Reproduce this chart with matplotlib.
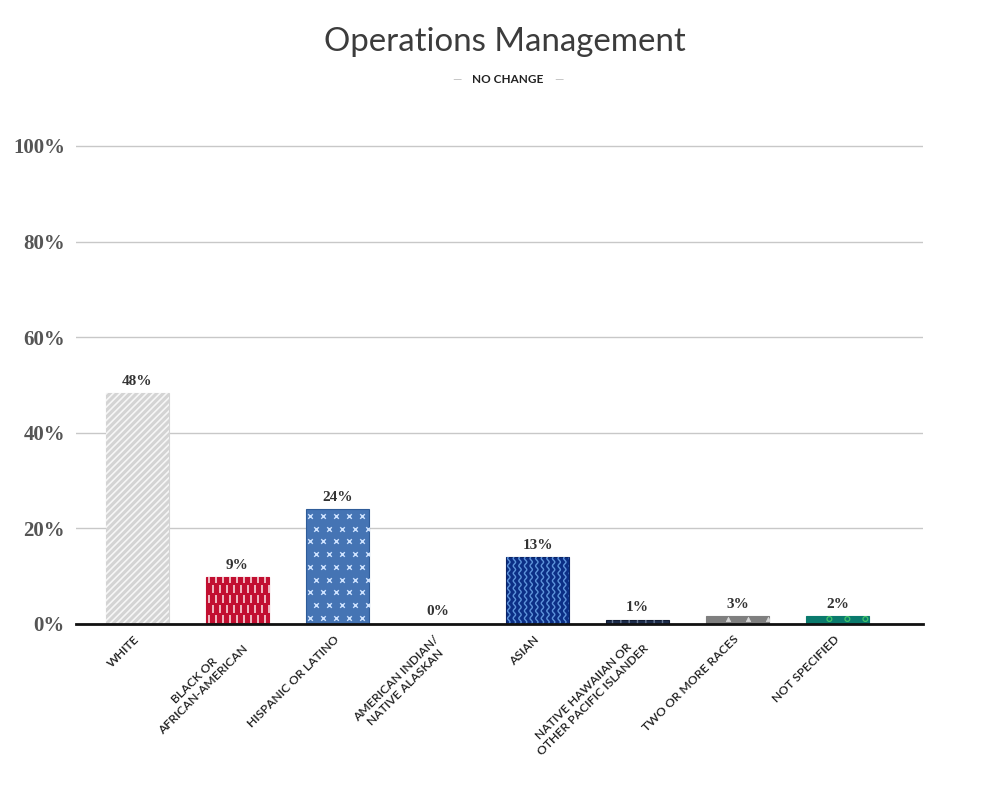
import matplotlib
matplotlib.use("Agg")
import matplotlib.pyplot as plt
from matplotlib.transforms import ScaledTranslation
import numpy as np

categories = ["WHITE", "BLACK OR\nAFRICAN-AMERICAN", "HISPANIC OR LATINO",
              "AMERICAN INDIAN/\nNATIVE ALASKAN", "ASIAN",
              "NATIVE HAWAIIAN OR\nOTHER PACIFIC ISLANDER", "TWO OR MORE RACES",
              "NOT SPECIFIED"]
values = [48.3, 9.8, 24.0, 0.0, 14.0, 0.9, 1.6, 1.6]
value_labels = ["48%", "9%", "24%", "0%", "13%", "1%", "3%", "2%"]
yticks = [0, 20, 40, 60, 80, 100]
ytick_labels = ["0%", "20%", "40%", "60%", "80%", "100%"]

face_colors = ["#d4d4d4", "#c20f31", "#4574b4", "#ffffff", "#0c2f86", "#1c2c4c", "#7f7f7f", "#0a7a6d"]
edge_colors = ["#d4d4d4", "#c20f31", "#2f5c99", "#ffffff", "#0a2466", "#111a30", "#7f7f7f", "#0a7a6d"]

fig = plt.figure(figsize=(10, 7.95), dpi=100)
ax = fig.add_axes([0.076, 0.2151, 0.847, 0.6133])
x = np.arange(len(categories))
bars = ax.bar(x, values, width=0.63, color=face_colors, edgecolor=edge_colors, linewidth=0.8, zorder=3)
ax.set_xlim(-0.615, 7.855)
ax.set_ylim(0, 102)

def hatch_overlay(bar, hatch, color, lw=1.0):
    plt.rcParams['hatch.linewidth'] = lw
    p = ax.bar(bar.get_x() + bar.get_width() / 2, bar.get_height(), width=bar.get_width(),
               color="none", edgecolor=color, hatch=hatch, linewidth=0, zorder=4)
    return p

hatch_overlay(bars[0], "/////", "#f6f6f6", 1.2)
hatch_overlay(bars[5], "||", "#6a7a96", 1.0)

fig.canvas.draw()

def stamp(bar, marker, color, dx, dy, size, lw, stagger=True, filled=True, x0off=0.5, y0=None):
    bb = bar.get_window_extent()
    if bb.height < 1:
        return
    pts = []
    yy = bb.y0 + (dy / 2 if y0 is None else y0)
    row = 0
    while yy < bb.y1:
        off = (dx / 2) if (stagger and row % 2 == 1) else 0
        xx = bb.x0 + dx * x0off + off
        while xx < bb.x1:
            pts.append((xx, yy))
            xx += dx
        yy += dy
        row += 1
    if not pts:
        return
    data = ax.transData.inverted().transform(np.array(pts))
    if filled:
        coll = ax.scatter(data[:, 0], data[:, 1], marker=marker, s=size, c=color,
                          linewidths=lw, zorder=5)
    else:
        coll = ax.scatter(data[:, 0], data[:, 1], marker=marker, s=size, facecolors="none",
                          edgecolors=color, linewidths=lw, zorder=5)
    coll.set_clip_path(bar)

def waves(bar, color, spacing, amp, period, lw):
    bb = bar.get_window_extent()
    if bb.height < 1:
        return
    ys = np.linspace(bb.y0, bb.y1, 400)
    xc = bb.x0 + spacing / 2
    while xc < bb.x1 + spacing:
        xs = xc + amp * np.sin(2 * np.pi * (ys - bb.y0) / period)
        d = ax.transData.inverted().transform(np.column_stack([xs, ys]))
        ln, = ax.plot(d[:, 0], d[:, 1], color=color, linewidth=lw, zorder=5)
        ln.set_clip_path(bar)
        xc += spacing

stamp(bars[1], "|", "#f3c6cd", 7.0, 10, 26, 1.3, stagger=True, x0off=0.45)
stamp(bars[2], "x", "#cfe3ff", 13, 12.7, 11, 1.0, stagger=True, x0off=0.3)
waves(bars[4], "#5d93da", 5.6, 1.2, 7.5, 1.0)
stamp(bars[6], "^", "#d9d9d9", 20, 10, 10, 0.5, stagger=False, x0off=1.1)
stamp(bars[7], "o", "#43c46a", 18, 10, 12, 0.9, stagger=False, filled=False, x0off=1.3)

serif = ["Liberation Serif", "DejaVu Serif"]
sans = ["Lato", "DejaVu Sans"]

ax.set_yticks(yticks)
ax.set_yticklabels(ytick_labels, fontfamily=serif, fontweight="bold", fontsize=15, color="#555555")
ax.tick_params(axis="y", length=0, pad=8)
ax.yaxis.grid(True, color="#c8c8c8", linewidth=1.0, zorder=0)
ax.set_axisbelow(True)

ax.set_xticks(x)
ax.set_xticklabels(categories, rotation=45, ha="right", va="top", rotation_mode="anchor",
                   fontfamily=sans, fontweight="semibold", fontsize=8.8, color="#222222",
                   multialignment="center")
ax.tick_params(axis="x", length=0, pad=7)
shift = ScaledTranslation(-4 / 100, 0, fig.dpi_scale_trans)
for lab in ax.get_xticklabels():
    lab.set_transform(lab.get_transform() + shift)

for s in ["top", "right", "left"]:
    ax.spines[s].set_visible(False)
ax.spines["bottom"].set_color("#111111")
ax.spines["bottom"].set_linewidth(2)
ax.spines["bottom"].set_zorder(6)

for b, lbl in zip(bars, value_labels):
    ax.annotate(lbl, (b.get_x() + b.get_width() / 2, b.get_height()), xytext=(0, 4),
                textcoords="offset points", ha="center", va="bottom",
                fontfamily=serif, fontweight="bold", fontsize=11, color="#333333")

fig.text(0.505, 0.947, "Operations Management", ha="center", va="center",
         fontfamily=sans, fontweight="normal", fontsize=23.8, color="#3c3c3c")
fig.text(0.5075, 0.8995, "NO CHANGE", ha="center", va="center",
         fontfamily=sans, fontweight="bold", fontsize=8.5, color="#222222")
fig.text(0.4565, 0.8995, "—", ha="center", va="center", fontfamily=sans, fontsize=8.5, color="#bbbbbb")
fig.text(0.5585, 0.8995, "—", ha="center", va="center", fontfamily=sans, fontsize=8.5, color="#bbbbbb")

fig.savefig("out.png", dpi=100, facecolor="white")
